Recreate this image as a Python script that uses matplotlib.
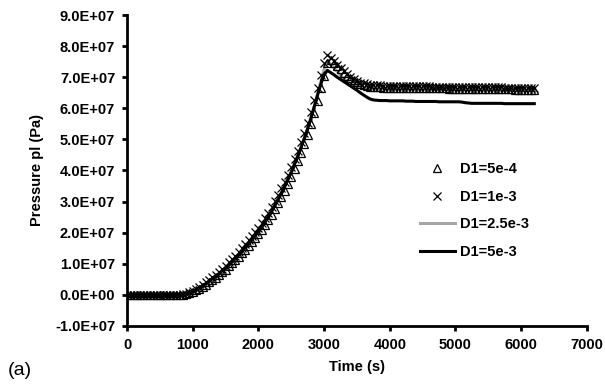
import numpy as np
import matplotlib
matplotlib.use('Agg')
import matplotlib.pyplot as plt
from matplotlib.ticker import FuncFormatter

plt.rcParams['font.family'] = ['Liberation Sans', 'DejaVu Sans']

# time grid (s), one sample every 50 s
time = np.arange(0, 6250, 50)

# pressure pl in units of 1e7 Pa
p_5e4 = [0, 0, 0, 0, 0, 0, 0, 0, 0, 0,
         0, 0, 0, 0, 0, 0, 0, 0, 0.02, 0.05,
         0.09, 0.14, 0.20, 0.26, 0.33, 0.40, 0.47, 0.55, 0.63, 0.72,
         0.81, 0.91, 1.01, 1.12, 1.23, 1.34, 1.45, 1.57, 1.70, 1.82,
         1.95, 2.09, 2.24, 2.40, 2.57, 2.75, 2.94, 3.14, 3.35, 3.57,
         3.80, 4.05, 4.30, 4.57, 4.85, 5.15, 5.48, 5.85, 6.25, 6.65,
         7.05, 7.45, 7.55, 7.45, 7.35, 7.25, 7.15, 7.05, 6.97, 6.90,
         6.84, 6.79, 6.75, 6.72, 6.70, 6.69, 6.68, 6.68, 6.67, 6.67,
         6.67, 6.66, 6.66, 6.66, 6.66, 6.66, 6.65, 6.65, 6.65, 6.65,
         6.65, 6.65, 6.64, 6.64, 6.64, 6.64, 6.64, 6.64, 6.63, 6.63,
         6.63, 6.63, 6.63, 6.63, 6.63, 6.62, 6.62, 6.62, 6.62, 6.62,
         6.62, 6.62, 6.61, 6.61, 6.61, 6.61, 6.61, 6.61, 6.60, 6.60,
         6.60, 6.60, 6.60, 6.60, 6.60]

p_1e3 = [0, 0, 0, 0, 0, 0, 0, 0, 0, 0,
         0, 0, 0, 0, 0, 0, 0, 0.01, 0.04, 0.08,
         0.13, 0.19, 0.25, 0.32, 0.40, 0.48, 0.56, 0.65, 0.74, 0.84,
         0.94, 1.04, 1.15, 1.26, 1.38, 1.50, 1.62, 1.75, 1.88, 2.02,
         2.16, 2.31, 2.47, 2.64, 2.82, 3.01, 3.21, 3.42, 3.64, 3.87,
         4.11, 4.37, 4.64, 4.92, 5.22, 5.54, 5.89, 6.27, 6.67, 7.07,
         7.45, 7.70, 7.62, 7.52, 7.41, 7.30, 7.19, 7.09, 7.00, 6.93,
         6.87, 6.83, 6.80, 6.78, 6.76, 6.75, 6.74, 6.74, 6.73, 6.73,
         6.73, 6.73, 6.72, 6.72, 6.72, 6.72, 6.72, 6.71, 6.71, 6.71,
         6.71, 6.71, 6.71, 6.70, 6.70, 6.70, 6.70, 6.70, 6.70, 6.70,
         6.69, 6.69, 6.69, 6.69, 6.69, 6.69, 6.69, 6.68, 6.68, 6.68,
         6.68, 6.68, 6.68, 6.68, 6.68, 6.67, 6.67, 6.67, 6.67, 6.67,
         6.67, 6.67, 6.66, 6.66, 6.66]

p_25e3 = [0, 0, 0, 0, 0, 0, 0, 0, 0, 0,
          0, 0, 0, 0, 0, 0, 0, 0, 0.03, 0.06,
          0.11, 0.16, 0.22, 0.29, 0.36, 0.44, 0.52, 0.60, 0.68, 0.78,
          0.87, 0.97, 1.08, 1.19, 1.30, 1.42, 1.54, 1.66, 1.79, 1.92,
          2.05, 2.20, 2.35, 2.52, 2.69, 2.88, 3.07, 3.28, 3.49, 3.72,
          3.95, 4.21, 4.47, 4.75, 5.04, 5.35, 5.69, 6.06, 6.46, 6.86,
          7.26, 7.52, 7.42, 7.30, 7.18, 7.06, 6.95, 6.86, 6.79, 6.74,
          6.70, 6.67, 6.65, 6.64, 6.63, 6.63, 6.62, 6.62, 6.62, 6.62,
          6.62, 6.61, 6.61, 6.61, 6.61, 6.61, 6.61, 6.61, 6.60, 6.60,
          6.60, 6.60, 6.60, 6.60, 6.60, 6.60, 6.60, 6.60, 6.59, 6.59,
          6.59, 6.59, 6.59, 6.59, 6.59, 6.59, 6.59, 6.58, 6.58, 6.58,
          6.58, 6.58, 6.58, 6.58, 6.58, 6.58, 6.58, 6.58, 6.57, 6.57,
          6.57, 6.57, 6.57, 6.57, 6.57]

p_5e3 = [0, 0, 0, 0, 0, 0, 0, 0, 0, 0,
         0, 0, 0, 0, 0, 0, 0, 0, 0.03, 0.06,
         0.11, 0.16, 0.22, 0.29, 0.36, 0.44, 0.52, 0.60, 0.68, 0.78,
         0.87, 0.97, 1.08, 1.19, 1.30, 1.42, 1.54, 1.66, 1.79, 1.92,
         2.05, 2.20, 2.35, 2.52, 2.69, 2.88, 3.07, 3.28, 3.49, 3.72,
         3.95, 4.21, 4.47, 4.75, 5.04, 5.35, 5.69, 6.05, 6.42, 6.78,
         7.08, 7.22, 7.15, 7.08, 7.00, 6.93, 6.86, 6.79, 6.72, 6.65,
         6.58, 6.50, 6.43, 6.36, 6.30, 6.27, 6.26, 6.25, 6.25, 6.25,
         6.24, 6.24, 6.24, 6.24, 6.24, 6.23, 6.23, 6.23, 6.22, 6.22,
         6.22, 6.22, 6.22, 6.22, 6.22, 6.21, 6.21, 6.21, 6.21, 6.21,
         6.21, 6.21, 6.20, 6.18, 6.17, 6.16, 6.16, 6.16, 6.16, 6.16,
         6.16, 6.16, 6.16, 6.16, 6.16, 6.15, 6.15, 6.15, 6.15, 6.15,
         6.15, 6.15, 6.15, 6.15, 6.15]

labels = ['D1=5e-4', 'D1=1e-3', 'D1=2.5e-3', 'D1=5e-3']
unit = 1e7

fig = plt.figure(figsize=(6.05, 3.87), dpi=100)
ax = fig.add_axes([0.21, 0.158, 0.76, 0.803])

ax.plot(time, np.array(p_25e3) * unit, color='#a6a6a6', lw=2.2, label=labels[2], zorder=2)
ax.plot(time, np.array(p_5e4) * unit, ls='none', marker='^', ms=6, mfc='none',
        mec='black', mew=0.9, label=labels[0], zorder=3)
ax.plot(time, np.array(p_1e3) * unit, ls='none', marker='x', ms=6,
        mec='black', mew=0.9, label=labels[1], zorder=3)
ax.plot(time, np.array(p_5e3) * unit, color='black', lw=2.2, label=labels[3], zorder=4)

ax.set_xlim(0, 7000)
ax.set_ylim(-1e7, 9e7)
ax.set_xticks(np.arange(0, 7001, 1000))
ax.set_yticks(np.arange(-1e7, 9.01e7, 1e7))
ax.yaxis.set_major_formatter(FuncFormatter(lambda v, pos: '{:.1E}'.format(v)))

for side in ['top', 'right']:
    ax.spines[side].set_visible(False)
for side in ['left', 'bottom']:
    ax.spines[side].set_linewidth(2.0)
ax.tick_params(direction='out', length=3.5, width=2.0, labelsize=10.5, pad=5)
for lab in ax.get_xticklabels() + ax.get_yticklabels():
    lab.set_fontweight('bold')

ax.set_xlabel('Time (s)', fontsize=10.5, fontweight='bold', labelpad=6)
ax.set_ylabel('Pressure pl (Pa)', fontsize=10.5, fontweight='bold', labelpad=8)

handles, labs = ax.get_legend_handles_labels()
order = [1, 2, 0, 3]
leg = ax.legend([handles[i] for i in order], [labs[i] for i in order],
                loc='center left', bbox_to_anchor=(0.624, 0.371), borderaxespad=0,
                frameon=False, numpoints=1, handlelength=2.4, handletextpad=0.35,
                labelspacing=0.95, prop={'weight': 'bold', 'size': 10.5})

fig.text(0.013, 0.03, '(a)', fontsize=14)

fig.savefig('out.png', dpi=100)
